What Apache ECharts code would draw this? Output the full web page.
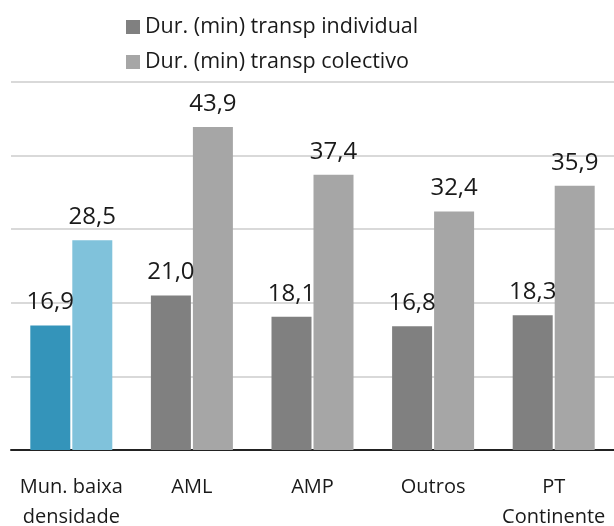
<!DOCTYPE html>
<html>
<head>
<meta charset="utf-8">
<script src="https://cdn.jsdelivr.net/npm/echarts@6/dist/echarts.min.js"></script>
<style>
  html, body { margin: 0; padding: 0; background: #fff; }
  #chart { width: 614px; height: 526px; }
</style>
</head>
<body>
<div id="chart"></div>
<script>
const categories = ['Mun. baixa\ndensidade', 'AML', 'AMP', 'Outros', 'PT\nContinente'];
const seriesNames = ['Dur. (min) transp individual', 'Dur. (min) transp colectivo'];
const individual = [16.9, 21.0, 18.1, 16.8, 18.3];
const colectivo = [28.5, 43.9, 37.4, 32.4, 35.9];

const FONT = '"Open Sans", "Noto Sans", sans-serif';
const grayColors = ['#808080', '#a6a6a6'];
const highlightColors = ['#3494ba', '#80c2db'];

// first category is highlighted in blue
const toData = (values, idx) =>
  values.map((v, i) => (i === 0 ? { value: v, itemStyle: { color: highlightColors[idx] } } : v));

const fmt = p => p.value.toFixed(1).replace('.', ',');

const barLabel = {
  show: true,
  position: 'top',
  distance: 11,
  formatter: fmt,
  fontFamily: FONT,
  fontSize: 24,
  color: '#1a1a1a'
};

const myChart = echarts.init(document.getElementById('chart'));
const option = {
  backgroundColor: '#fff',
  animation: false,
  legend: {
    orient: 'vertical',
    left: 121,
    top: 11,
    icon: 'rect',
    itemWidth: 14,
    itemHeight: 14,
    itemGap: 13,
    textStyle: { fontFamily: FONT, fontSize: 21.5, color: '#1a1a1a' },
    data: seriesNames
  },
  grid: { left: 11, right: 0, top: 82, bottom: 76, outerBoundsMode: 'none' },
  xAxis: {
    type: 'category',
    data: categories,
    axisLine: { lineStyle: { color: '#222', width: 2 } },
    axisTick: { show: false },
    axisLabel: {
      fontFamily: FONT,
      fontSize: 20,
      color: '#1a1a1a',
      margin: 22,
      lineHeight: 30,
      interval: 0
    }
  },
  yAxis: {
    type: 'value',
    min: 0,
    max: 50,
    interval: 10,
    axisLabel: { show: false },
    axisLine: { show: false },
    axisTick: { show: false },
    splitLine: { lineStyle: { color: '#d9d9d9', width: 2 } }
  },
  series: [
    {
      name: seriesNames[0],
      type: 'bar',
      barWidth: 40,
      barGap: '5%',
      itemStyle: { color: grayColors[0] },
      label: barLabel,
      data: toData(individual, 0)
    },
    {
      name: seriesNames[1],
      type: 'bar',
      barWidth: 40,
      barGap: '5%',
      itemStyle: { color: grayColors[1] },
      label: barLabel,
      data: toData(colectivo, 1)
    }
  ]
};
myChart.setOption(option);
</script>
</body>
</html>
